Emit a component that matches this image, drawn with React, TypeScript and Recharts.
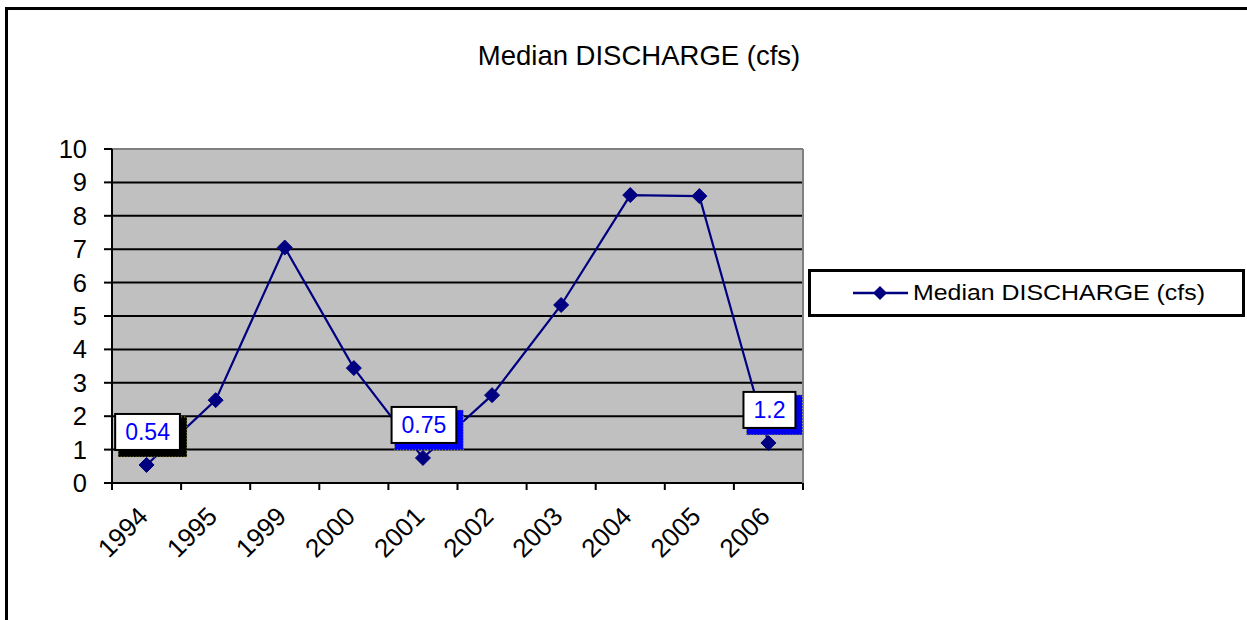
import React from 'react';
import { LineChart, Line, XAxis, YAxis, CartesianGrid, LabelList, Legend } from 'recharts';

const years = ['1994', '1995', '1999', '2000', '2001', '2002', '2003', '2004', '2005', '2006'];
const medianDischarge = [0.54, 2.48, 7.05, 3.44, 0.75, 2.63, 5.33, 8.62, 8.59, 1.2];
const labeledYears = ['1994', '2001', '2006'];
const yTicks = [0, 1, 2, 3, 4, 5, 6, 7, 8, 9, 10];
const boundaryTicks = [0, 1, 2, 3, 4, 5, 6, 7, 8, 9, 10];
const seriesName = 'Median DISCHARGE (cfs)';
const chartTitle = 'Median DISCHARGE (cfs)';

// pos = category slot centre (index + 0.5) so the line sits in the middle of each category band
const data = years.map((year, i) => ({ year, pos: i + 0.5, value: medianDischarge[i] }));

const NAVY = '#000080';
const FONT = '"Liberation Sans", Arial, sans-serif';
const labelShadowColors: Record<string, string> = { '1994': '#000000', '2001': '#0000FF', '2006': '#0000EE' };

const Diamond = (props: any) => {
  const { cx, cy, index } = props;
  if (cx == null || cy == null) return <g key={`d${index}`} />;
  const r = 7.5;
  return (
    <path
      key={`d${index}`}
      d={`M${cx},${cy - r} L${cx + r},${cy} L${cx},${cy + r} L${cx - r},${cy} Z`}
      fill={NAVY}
      stroke={NAVY}
      strokeWidth={1}
    />
  );
};

const XTick = (props: any) => {
  const { x, y, payload } = props;
  const tx = x + 3;
  const ty = y + 34;
  return (
    <text
      x={tx}
      y={ty}
      transform={`rotate(-45 ${tx} ${ty})`}
      textAnchor="end"
      fontSize={26}
      fontFamily={FONT}
      fill="#000"
    >
      {payload.value}
    </text>
  );
};

const ValueLabel = (props: any) => {
  const { x, y, value, index } = props;
  const year = years[index];
  if (!labeledYears.includes(year)) return null;
  const text = String(value);
  const fs = 23;
  const tw = text.split('').reduce((s, c) => s + (c === '.' ? 0.278 : 0.556), 0) * fs;
  const w = tw + 20;
  const h = 36;
  const cx = x + 1;
  const cy = y - 33;
  const bx = cx - w / 2;
  const by = cy - h / 2;
  const shadow = labelShadowColors[year] || '#0000FF';
  return (
    <g>
      <rect x={bx + 3} y={by + 3} width={w + 4} height={h + 4} fill={shadow} stroke="#B8B040" strokeDasharray="1 2" strokeWidth={1} />
      <rect x={bx} y={by} width={w} height={h} fill="#FFFFFF" stroke="#000" strokeWidth={2} />
      <text x={cx} y={cy + 8} textAnchor="middle" fontSize={fs} fontFamily={FONT} fill="#0000FF">
        {text}
      </text>
    </g>
  );
};

const LegendBox = () => (
  <svg width={437} height={48} style={{ display: 'block' }}>
    <rect x={1.5} y={1.5} width={434} height={45} fill="#FFFFFF" stroke="#000" strokeWidth={3} />
    <line x1={45} y1={24} x2={100} y2={24} stroke={NAVY} strokeWidth={2.5} />
    <path d="M72,17 L79,24 L72,31 L65,24 Z" fill={NAVY} />
    <text x={105} y={31} fontSize={22} fontFamily={FONT} fill="#000" textLength={292} lengthAdjust="spacingAndGlyphs">
      {seriesName}
    </text>
  </svg>
);

export default function App() {
  return (
    <div style={{ position: 'absolute', left: 0, top: 0, width: 1247, height: 620, overflow: 'hidden', background: '#fff' }}>
      <LineChart width={1247} height={620} data={data} margin={{ top: 148, right: 443, bottom: 0, left: 0 }}>
        <CartesianGrid xAxisId="bounds" fill="#C0C0C0" fillOpacity={1} stroke="#000" strokeWidth={2} vertical={false} />
        <XAxis
          xAxisId="bounds"
          dataKey="pos"
          type="number"
          domain={[0, years.length]}
          ticks={boundaryTicks}
          allowDataOverflow
          height={1}
          axisLine={{ stroke: '#000', strokeWidth: 2 }}
          tickLine={{ stroke: '#000', strokeWidth: 2 }}
          tickSize={7}
          tickFormatter={() => ''}
        />
        <XAxis
          xAxisId="cat"
          dataKey="year"
          scale="band"
          height={136}
          axisLine={false}
          tickLine={false}
          tickSize={0}
          tickMargin={0}
          interval={0}
          tick={<XTick />}
        />
        <XAxis
          xAxisId="top"
          orientation="top"
          type="number"
          domain={[0, 1]}
          allowDataOverflow
          height={1}
          tick={false}
          tickLine={false}
          axisLine={{ stroke: '#808080', strokeWidth: 2 }}
        />
        <YAxis
          domain={[0, 10]}
          ticks={yTicks}
          interval={0}
          width={112}
          axisLine={{ stroke: '#000', strokeWidth: 2 }}
          tickLine={{ stroke: '#000', strokeWidth: 2 }}
          tickSize={8}
          tickMargin={17}
          tick={{ fontSize: 25.5, fill: '#000', fontFamily: FONT }}
        />
        <YAxis
          yAxisId="right"
          orientation="right"
          domain={[0, 10]}
          allowDataOverflow
          width={1}
          tick={false}
          tickLine={false}
          axisLine={{ stroke: '#808080', strokeWidth: 2 }}
        />
        <Legend
          verticalAlign="middle"
          align="center"
          layout="horizontal"
          wrapperStyle={{ position: 'absolute', left: 808, top: 269, width: 437, height: 48, margin: 0, padding: 0, lineHeight: 0 }}
          content={() => <LegendBox />}
        />
        <Line
          xAxisId="bounds"
          type="linear"
          dataKey="value"
          name={seriesName}
          stroke={NAVY}
          strokeWidth={2.2}
          dot={Diamond}
          activeDot={false}
          isAnimationActive={false}
        >
          <LabelList dataKey="value" content={<ValueLabel />} />
        </Line>
      </LineChart>
      <svg width={1247} height={620} style={{ position: 'absolute', left: 0, top: 0, pointerEvents: 'none' }}>
        <line x1={5} y1={8.5} x2={1247} y2={8.5} stroke="#000" strokeWidth={3} />
        <line x1={6.5} y1={7} x2={6.5} y2={620} stroke="#000" strokeWidth={3} />
        <text x={639} y={65} textAnchor="middle" fontSize={27.5} fontFamily={FONT} fill="#000">
          {chartTitle}
        </text>
      </svg>
    </div>
  );
}
